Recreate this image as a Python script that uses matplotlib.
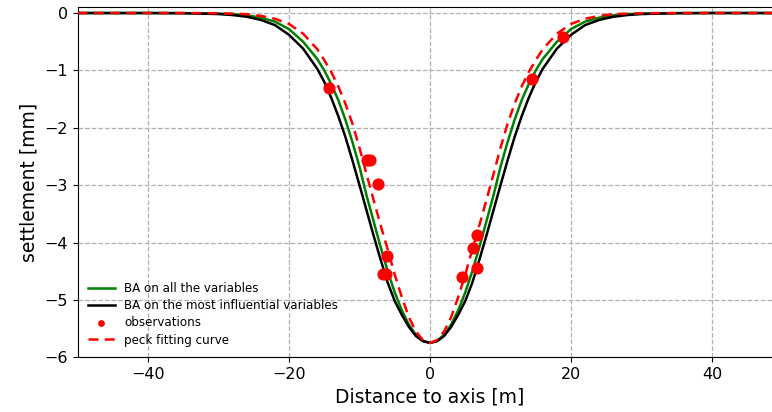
import matplotlib
matplotlib.use('Agg')
import matplotlib.pyplot as plt

# distance to tunnel axis [m] where the curves were read
x_dist = [-50, -45, -40, -35, -30, -28, -26, -24, -22, -20, -18, -16, -15, -14, -13,
          -12, -11, -10, -9, -8, -7, -6, -5, -4, -3, -2, -1, 0,
          1, 2, 3, 4, 5, 6, 7, 8, 9, 10, 11, 12,
          13, 14, 15, 16, 18, 20, 22, 24, 26, 28, 30, 35, 40, 45, 50]

# BA on all the variables
s_ba_all = [0, 0, 0, -0.002, -0.01, -0.02, -0.04, -0.08, -0.15, -0.28, -0.50, -0.80, -1.00, -1.24, -1.52,
            -1.86, -2.25, -2.68, -3.18, -3.63, -4.08, -4.50, -4.87, -5.18, -5.43, -5.61, -5.71, -5.75,
            -5.71, -5.61, -5.43, -5.18, -4.87, -4.50, -4.08, -3.63, -3.18, -2.68, -2.25, -1.86,
            -1.52, -1.24, -1.00, -0.80, -0.50, -0.28, -0.15, -0.08, -0.04, -0.02, -0.01, -0.002, 0, 0, 0]

# BA on the most influential variables
s_ba_infl = [0, 0, 0, -0.003, -0.018, -0.035, -0.065, -0.12, -0.21, -0.38, -0.62, -0.97, -1.20, -1.48, -1.80,
             -2.16, -2.57, -3.00, -3.44, -3.88, -4.30, -4.70, -5.02, -5.26, -5.47, -5.63, -5.72, -5.75,
             -5.72, -5.63, -5.47, -5.26, -5.02, -4.70, -4.30, -3.88, -3.44, -3.00, -2.57, -2.16,
             -1.80, -1.48, -1.20, -0.97, -0.62, -0.38, -0.21, -0.12, -0.065, -0.035, -0.018, -0.003, 0, 0, 0]

# peck fitting curve
s_peck = [0, 0, 0, 0, -0.004, -0.01, -0.02, -0.05, -0.10, -0.19, -0.36, -0.63, -0.82, -1.03, -1.28,
          -1.58, -1.93, -2.35, -2.81, -3.26, -3.70, -4.12, -4.56, -4.95, -5.30, -5.55, -5.70, -5.75,
          -5.70, -5.55, -5.30, -4.95, -4.56, -4.12, -3.70, -3.26, -2.81, -2.35, -1.93, -1.58,
          -1.28, -1.03, -0.82, -0.63, -0.36, -0.19, -0.10, -0.05, -0.02, -0.01, -0.004, 0, 0, 0, 0]

# observed settlements
obs_x = [-14.3, -9.0, -8.5, -7.4, -6.15, -6.7, -6.2, 4.5, 6.05, 6.6, 6.7, 14.4, 18.9]
obs_s = [-1.31, -2.57, -2.57, -2.98, -4.24, -4.54, -4.54, -4.60, -4.10, -3.86, -4.44, -1.15, -0.42]

fig = plt.figure(figsize=(7.72, 4.12), dpi=100)
ax = fig.add_axes([0.1004, 0.1328, 0.9132, 0.8495])

ax.plot(x_dist, s_ba_all, color='green', lw=1.8, label='BA on all the variables')
ax.plot(x_dist, s_ba_infl, color='black', lw=1.8, label='BA on the most influential variables')
ax.scatter(obs_x, obs_s, color='red', s=60, zorder=3, label='observations')
ax.plot(x_dist, s_peck, color='red', lw=1.8, ls='--', dashes=(4, 2.5), zorder=4,
        label='peck fitting curve')

ax.set_xlim(-50, 50)
ax.set_ylim(-6, 0.1)
ax.set_xticks([-40, -20, 0, 20, 40])
ax.set_yticks([0, -1, -2, -3, -4, -5, -6])
ax.tick_params(labelsize=11.5)
ax.grid(True, ls='--', color='#b0b0b0', lw=0.9)
ax.set_xlabel('Distance to axis [m]', fontsize=13.5)
ax.set_ylabel('settlement [mm]', fontsize=13.5)

ax.legend(loc='lower left', fontsize=8.6, frameon=False, markerscale=0.5,
          labelspacing=0.35, handlelength=2.2)

fig.savefig('out.png', dpi=100)
